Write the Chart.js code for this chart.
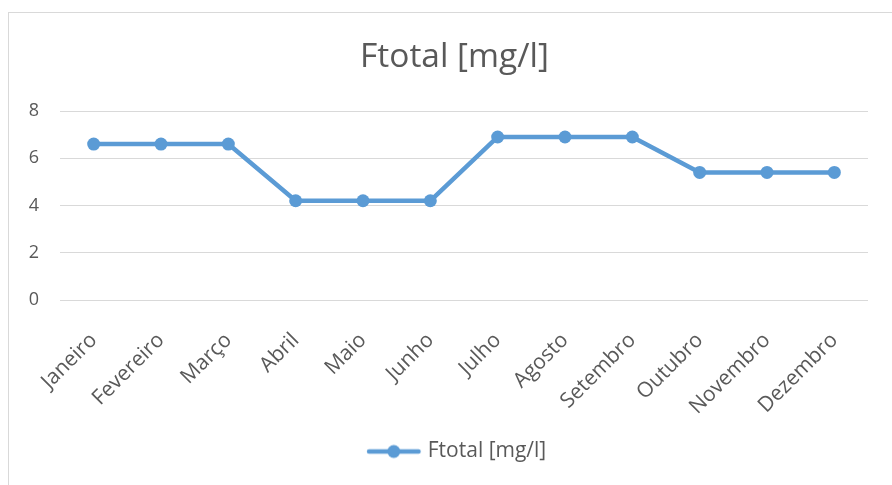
<!DOCTYPE html>
<html>
<head>
<meta charset="utf-8">
<script src="https://cdn.jsdelivr.net/npm/chart.js@4"></script>
<style>
  html, body { margin: 0; padding: 0; background: #fff; overflow: hidden; width: 892px; height: 485px; }
  #frame { position: absolute; left: 8px; top: 12px; width: 1000px; height: 1000px; border: 1px solid #d9d9d9; }
  #c { position: absolute; left: 0; top: 0; }
</style>
</head>
<body>
<div id="frame"></div>
<canvas id="c" width="900" height="485"></canvas>
<script>
// Monthly total fluoride concentration
const months = ['Janeiro', 'Fevereiro', 'Março', 'Abril', 'Maio', 'Junho',
                'Julho', 'Agosto', 'Setembro', 'Outubro', 'Novembro', 'Dezembro'];
const ftotal = [6.6, 6.6, 6.6, 4.2, 4.2, 4.2, 6.9, 6.9, 6.9, 5.4, 5.4, 5.4];
const yTicks = [0, 2, 4, 6, 8];
const seriesName = 'Ftotal [mg/l]';
const chartTitle = 'Ftotal [mg/l]';

const BLUE = '#5B9BD5';
const TEXT = '#595959';
const GRID = '#d9d9d9';

// Legend marker: a short line with a dot, drawn a little right of the image centre
function legendMarker() {
  const m = document.createElement('canvas');
  m.width = 70; m.height = 16;
  const g = m.getContext('2d');
  g.strokeStyle = BLUE; g.lineWidth = 4.5; g.lineCap = 'round';
  g.beginPath(); g.moveTo(14, 8); g.lineTo(63.5, 8); g.stroke();
  g.fillStyle = BLUE;
  g.beginPath(); g.arc(38.75, 8, 6.5, 0, Math.PI * 2); g.fill();
  return m;
}

new Chart(document.getElementById('c'), {
  type: 'line',
  data: {
    labels: months,
    datasets: [{
      label: seriesName,
      data: ftotal,
      borderColor: BLUE,
      backgroundColor: BLUE,
      borderWidth: 4.5,
      borderCapStyle: 'round',
      borderJoinStyle: 'round',
      pointRadius: 6.5,
      pointBorderWidth: 0,
      pointBackgroundColor: BLUE,
      tension: 0,
      fill: false
    }]
  },
  options: {
    responsive: false,
    animation: false,
    devicePixelRatio: 1,
    layout: { padding: { left: 9, right: 0, top: 0, bottom: 13 } },
    plugins: {
      title: {
        display: true,
        text: chartTitle,
        color: TEXT,
        font: { family: 'Open Sans', size: 33.5, weight: 'normal' },
        padding: { top: 37, bottom: 33.8 }
      },
      legend: {
        display: true,
        position: 'bottom',
        labels: {
          usePointStyle: true,
          pointStyle: legendMarker(),
          pointStyleWidth: 54.5,
          color: TEXT,
          padding: 10,
          font: { family: 'Open Sans', size: 21 }
        }
      },
      tooltip: { enabled: false }
    },
    scales: {
      x: {
        grid: { display: false, drawTicks: false },
        border: { display: false },
        offset: true,
        ticks: {
          color: TEXT,
          font: { family: 'Open Sans', size: 21 },
          minRotation: 45,
          maxRotation: 45,
          autoSkip: false,
          padding: 28
        },
        afterFit: s => { s.height = 131; }
      },
      y: {
        min: yTicks[0],
        max: yTicks[yTicks.length - 1],
        grid: { color: GRID, lineWidth: 1, drawTicks: false },
        border: { display: false },
        afterBuildTicks: s => { s.ticks = yTicks.map(v => ({ value: v })); },
        ticks: {
          color: TEXT,
          font: { family: 'Open Sans', size: 18 },
          padding: 21
        },
        afterFit: s => { s.width = 51; }
      },
      yRight: {
        position: 'right',
        display: true,
        grid: { display: false, drawTicks: false },
        border: { display: false },
        ticks: { display: false },
        afterFit: s => { s.width = 32; }
      }
    }
  }
});
</script>
</body>
</html>
